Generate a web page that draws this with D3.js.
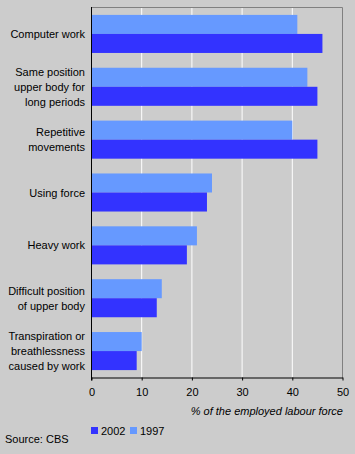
<!DOCTYPE html>
<html><head><meta charset="utf-8">
<script src="https://cdn.jsdelivr.net/npm/d3@7"></script>
<style>
body{margin:0;background:#cccccc;}
svg{display:block;font-family:"Liberation Sans",Arial,sans-serif;}
</style></head>
<body>
<script>
const categories = [
  ["Computer work"],
  ["Same position", "upper body for", "long periods"],
  ["Repetitive", "movements"],
  ["Using force"],
  ["Heavy work"],
  ["Difficult position", "of upper body"],
  ["Transpiration or", "breathlessness", "caused by work"]
];
const values1997 = [41, 43, 40, 24, 21, 14, 10];
const values2002 = [46, 45, 45, 23, 19, 13, 9];
const xTicks = [0, 10, 20, 30, 40, 50];
const seriesNames = ["2002", "1997"];
const colors = {"2002": "#3333ff", "1997": "#6699ff"};

const W = 355, H = 454;
const m = {left: 91.5, right: 342.5, top: 7.5, bottom: 377.5};
const svg = d3.select("body").append("svg").attr("width", W).attr("height", H);
svg.append("rect").attr("width", W).attr("height", H).attr("fill", "#cccccc");

const x = d3.scaleLinear().domain([0, 50]).range([m.left, m.right]);
const y = d3.scaleBand().domain(d3.range(categories.length)).range([m.top, m.bottom]).paddingInner(0.28).paddingOuter(0.14);
const sub = d3.scaleBand().domain(["1997", "2002"]).range([0, y.bandwidth()]);

// gridlines
svg.append("g").selectAll("line").data(xTicks.filter(t => t > 0 && t < 50)).join("line")
  .attr("x1", d => x(d)).attr("x2", d => x(d))
  .attr("y1", m.top).attr("y2", m.bottom)
  .attr("stroke", "#ffffff").attr("stroke-width", 1);

// frame top/right
svg.append("path").attr("d", `M${m.left},${m.top}H${m.right}V${m.bottom}`)
  .attr("fill", "none").attr("stroke", "#808080").attr("stroke-width", 1);

// bars
const groups = svg.append("g").selectAll("g").data(categories).join("g");
groups.append("rect")
  .attr("x", x(0)).attr("y", (d, i) => y(i) + sub("1997"))
  .attr("width", (d, i) => x(values1997[i]) - x(0)).attr("height", sub.bandwidth())
  .attr("fill", colors["1997"]);
groups.append("rect")
  .attr("x", x(0)).attr("y", (d, i) => y(i) + sub("2002"))
  .attr("width", (d, i) => x(values2002[i]) - x(0)).attr("height", sub.bandwidth())
  .attr("fill", colors["2002"]);

// category labels
groups.append("text")
  .attr("text-anchor", "end").attr("font-size", 11).attr("fill", "#000")
  .each(function(d, i) {
    const t = d3.select(this);
    const cy = y(i) + y.bandwidth() / 2;
    const n = d.length, lh = 15;
    d.forEach((line, k) => {
      t.append("tspan").attr("x", 85).attr("y", cy + (k - (n - 1) / 2) * lh + 4).text(line);
    });
  });

// x axis
const xAxis = d3.axisBottom(x).tickValues(xTicks).tickSize(3).tickPadding(8).tickSizeOuter(0);
const ga = svg.append("g").attr("transform", `translate(0,${m.bottom})`).call(xAxis);
ga.select(".domain").attr("stroke", "#000");
ga.selectAll(".tick line").attr("stroke", "#000");
ga.selectAll("text").attr("font-size", 11).attr("font-family", "Liberation Sans, Arial, sans-serif").attr("fill", "#000");

// y axis line
svg.append("line").attr("x1", m.left).attr("x2", m.left).attr("y1", m.top - 0.5).attr("y2", m.bottom + 3)
  .attr("stroke", "#000").attr("stroke-width", 1);

// axis title
svg.append("text").attr("x", 343).attr("y", 415).attr("text-anchor", "end")
  .attr("font-size", 11).attr("font-style", "italic").text("% of the employed labour force");

// legend
const lg = svg.append("g");
const legX = [91, 130];
seriesNames.forEach((s, i) => {
  lg.append("rect").attr("x", legX[i]).attr("y", 427).attr("width", 7).attr("height", 7).attr("fill", colors[s]);
  lg.append("text").attr("x", legX[i] + 10).attr("y", 434.5).attr("font-size", 11).text(s);
});

svg.append("text").attr("x", 5).attr("y", 443).attr("font-size", 11).text("Source: CBS");
</script>
</body></html>
